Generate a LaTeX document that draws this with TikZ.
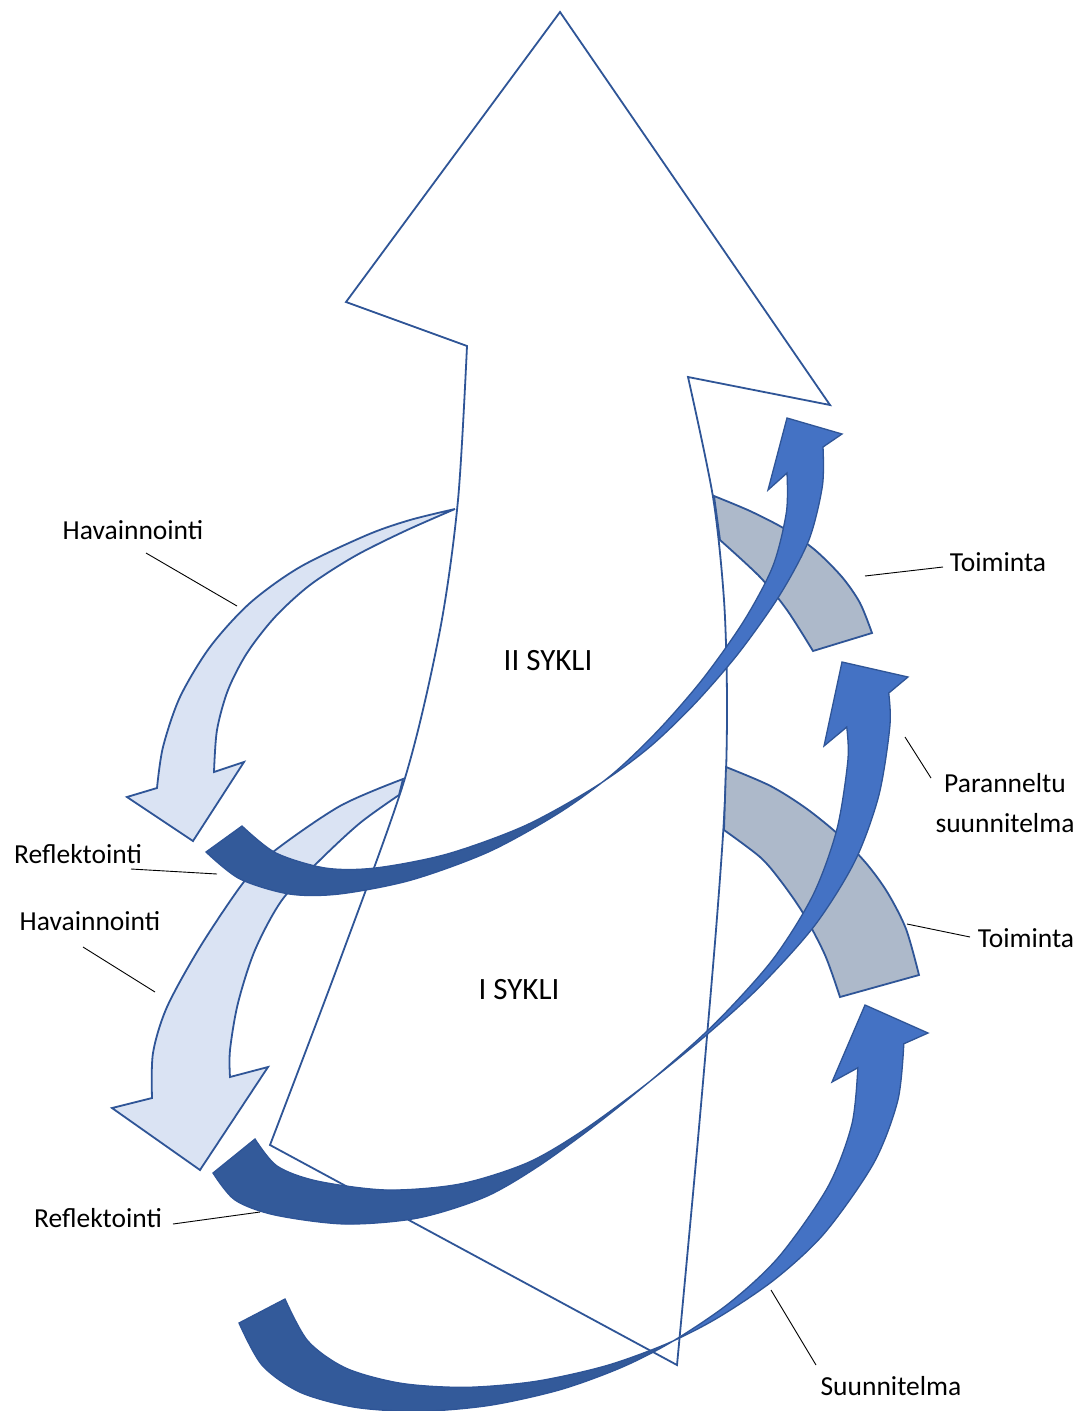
\documentclass[tikz,border=0pt]{standalone}
\usepackage{fontspec}
\setmainfont{Carlito}
\definecolor{bordc}{HTML}{2F5597}
\definecolor{lightc}{HTML}{DAE3F3}
\definecolor{grayc}{HTML}{ADB9CA}
\definecolor{bluec}{HTML}{4472C4}
\definecolor{darkc}{HTML}{335A9A}
\tikzset{
  outline/.style={draw=bordc, line width=1.8pt, line join=miter},
  thinout/.style={draw=bordc, line width=1.3pt, line join=miter},
  lbl/.style={font=\fontsize{27.5}{33}\selectfont, inner sep=0pt, anchor=base},
  cyc/.style={font=\fontsize{31}{37}\selectfont, inner sep=0pt, anchor=base},
  leader/.style={draw=black, line width=0.9pt}
}
% curved up arrows: edge E1 (tail bottom -> left notch), head, edge E2 = E1 + d (right notch -> tail top)
\newcommand\arrA[1]{\path[#1] plot[smooth] coordinates {(206,852) (239.6,878.8) (289.3,894) (339.3,894) (411,880.1) (489,851.7) (559,812.9) (612.4,774.1) (658.5,730) (702.7,679) (743.8,621) (772.9,566) (786.4,512) (787,473)} -- (768,490) -- (787,418) -- (842,434) -- plot[smooth] coordinates {(823,447) (822.4,486) (808.9,540) (779.8,595) (738.7,653) (694.5,704) (648.4,748.1) (595,786.9) (525,825.7) (447,854.1) (375.3,868) (325.3,868) (275.6,852.8) (242,826)} -- cycle;}
\newcommand\arrB[1]{\path[#1] plot[smooth] coordinates {(213,1173) (235,1200) (275,1215) (345,1224) (418,1218) (485,1197) (538.7,1166) (600.2,1121.3) (660,1072.8) (716.5,1021.9) (772.7,959.5) (813,895) (836.9,829.2) (847.9,760.1) (846.7,727.1)} -- (824,746) -- (842,662) -- (908,677) -- plot[smooth] coordinates {(888.7,693.1) (889.9,726.1) (878.9,795.2) (855,861) (814.7,925.5) (758.5,987.9) (702,1038.8) (642.2,1087.3) (580.7,1132) (527,1163) (460,1184) (387,1190) (317,1181) (277,1166) (255,1139)} -- cycle;}
\newcommand\arrC[1]{\path[#1] plot[smooth] coordinates {(239,1323) (262,1365.1) (300.3,1392.3) (355.3,1407.3) (420.2,1411.3) (489.9,1405.3) (560.2,1389.7) (621.3,1367.5) (672.1,1341.6) (729.3,1303) (779,1256.6) (827.8,1187) (851.8,1124.5) (857.8,1067.8)} -- (832,1082) -- (865,1005) -- (928,1033) -- plot[smooth] coordinates {(903.8,1043.8) (897.8,1100.5) (873.8,1163) (825,1232.6) (775.3,1279) (718.1,1317.6) (667.3,1343.5) (606.2,1365.7) (535.9,1381.3) (466.2,1387.3) (401.3,1383.3) (346.3,1368.3) (308,1341.1) (285,1299)} -- cycle;}
\begin{document}
\begin{tikzpicture}[x=1pt,y=-1pt]
\useasboundingbox (0,0) rectangle (1086,1411);
\fill[white] (0,0) rectangle (1086,1411);

% big arrow
\draw[outline, fill=white] (560,12) -- (830,405) -- (688,377) -- plot[smooth] coordinates {(688,377) (713,497) (724,600) (727,700) (725,800) (716,930) (697,1150) (677,1365)} -- (270,1145) -- plot[smooth] coordinates {(270,1145) (340,960) (405,778) (440,630) (458,500) (467,346)} -- (346,302) -- cycle;

% Havainnointi arrows
\draw[outline, fill=lightc] plot[smooth] coordinates {(455,509) (410,520) (367,535) (300,567) (250,603) (210,647) (180,697) (163,747) (157,788)} -- (127,797) -- (193,841) -- (244,762) -- plot[smooth] coordinates {(214,772) (217,730) (228,690) (247,653) (275,617) (310,585) (355,556) (405,531) (455,509)} -- cycle;
\draw[outline, fill=lightc] plot[smooth] coordinates {(403,779) (340,806) (273,852) (243,883) (200,947) (167,1007) (153,1053) (152,1098)} -- (112,1108) -- (200,1170) -- (268,1067) -- plot[smooth] coordinates {(230,1077) (230,1050) (238,1003) (255,950) (282,900) (320,860) (360,823) (399,795)} -- cycle;

% Toiminta bands
\draw[outline, fill=grayc] plot[smooth] coordinates {(714,496) (750,511) (785,529) (815,550) (842,577) (860,603) (872,633)} -- (813,651) -- plot[smooth] coordinates {(813,651) (787,610) (760,577) (720,540)} -- cycle;
\draw[outline, fill=grayc] plot[smooth] coordinates {(726,767) (770.2,785.8) (805.8,808.1) (838.4,834.5) (866.2,863.3) (887.4,892.4) (906,928.9) (919,975)} -- (840,997) -- plot[smooth] coordinates {(840,997) (825,955) (803,913) (780,880) (760,857) (724,830)} -- cycle;

% curved up arrows (back part dark, front part blue)
\arrC{fill=bluec}
\begin{scope}
  \clip (165,345) -- (1165,2345) -- (-600,2345) -- (-600,345) -- cycle;
  \arrC{fill=darkc}
\end{scope}
\arrC{thinout}

\arrB{fill=bluec}
\begin{scope}
  \clip (-90,60) -- (1450,2060) -- (-600,2060) -- (-600,60) -- cycle;
  \arrB{fill=darkc}
\end{scope}
\arrB{thinout}

\arrA{fill=bluec}
\begin{scope}
  \clip (-120,-217) -- (1320,1783) -- (-600,1783) -- (-600,-217) -- cycle;
  \arrA{fill=darkc}
\end{scope}
\arrA{thinout}

% cycle labels
\node[cyc] (syk2) at (548,670) {II SYKLI};
\node[cyc] (syk1) at (519,999) {I SYKLI};

% labels
\node[lbl] (hav1) at (133,539) {Havainnointi};
\node[lbl] (ref1) at (78,863) {Reflektointi};
\node[lbl] (hav2) at (90,930) {Havainnointi};
\node[lbl] (ref2) at (98,1227) {Reflektointi};
\node[lbl] (toi1) at (998,571) {Toiminta};
\node[lbl] (par1) at (1005,792) {Paranneltu};
\node[lbl] (par2) at (1005,832) {suunnitelma};
\node[lbl] (toi2) at (1026,947) {Toiminta};
\node[lbl] (suu) at (891,1395) {Suunnitelma};

% leader lines
\coordinate (h1a) at (146,553); \coordinate (h1b) at (237,606);
\coordinate (r1a) at (131,869); \coordinate (r1b) at (217,874);
\coordinate (h2a) at (83,947);  \coordinate (h2b) at (155,992);
\coordinate (r2a) at (173,1224); \coordinate (r2b) at (260,1212);
\coordinate (t1a) at (943,567); \coordinate (t1b) at (865,576);
\coordinate (pa) at (931,778);  \coordinate (pb) at (905,737);
\coordinate (t2a) at (970,937); \coordinate (t2b) at (907,924);
\coordinate (sa) at (816,1365); \coordinate (sb) at (771,1290);
\draw[leader] (h1a) -- (h1b);
\draw[leader] (r1a) -- (r1b);
\draw[leader] (h2a) -- (h2b);
\draw[leader] (r2a) -- (r2b);
\draw[leader] (t1a) -- (t1b);
\draw[leader] (pa) -- (pb);
\draw[leader] (t2a) -- (t2b);
\draw[leader] (sa) -- (sb);
\end{tikzpicture}
\end{document}
